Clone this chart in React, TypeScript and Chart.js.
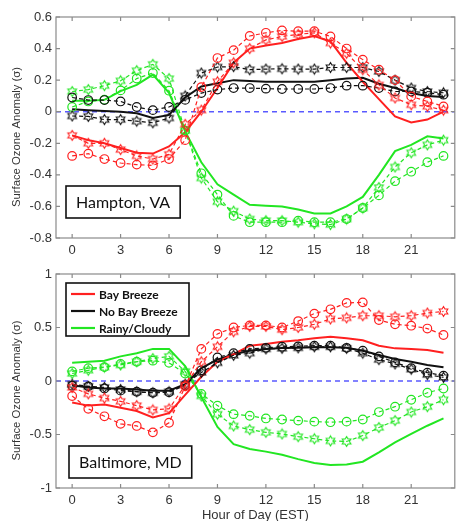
import { useEffect, useRef } from "react";
import { Chart, registerables } from "chart.js";
Chart.register(...registerables);

// ---------------- data ----------------
const HOURS = [0, 1, 2, 3, 4, 5, 6, 7, 8, 9, 10, 11, 12, 13, 14, 15, 16, 17, 18, 19, 20, 21, 22, 23];
const X_TICKS = [0, 3, 6, 9, 12, 15, 18, 21];
const X_MIN = -1;
const X_MAX = 23.7;

const CATEGORIES = ["Bay Breeze", "No Bay Breeze", "Rainy/Cloudy"];
const X_TITLE = "Hour of Day (EST)";
const Y_TITLE = "Surface Ozone Anomaly (\u03c3)";
const TOP_LOCATION = "Hampton, VA";
const BOTTOM_LOCATION = "Baltimore, MD";

// Hampton, VA
const H_BB_SOLID = [-0.15, -0.18, -0.2, -0.23, -0.26, -0.265, -0.22, -0.13, 0.0, 0.15, 0.31, 0.4, 0.42, 0.435, 0.46, 0.48, 0.445, 0.31, 0.19, 0.08, -0.03, -0.068, -0.05, 0.0];
const H_BB_CIRC = [-0.28, -0.266, -0.3, -0.325, -0.335, -0.34, -0.3, -0.18, 0.156, 0.34, 0.39, 0.48, 0.5, 0.515, 0.51, 0.51, 0.477, 0.4, 0.33, 0.266, 0.2, 0.097, 0.065, 0.034];
const H_BB_STAR = [-0.15, -0.2, -0.2, -0.24, -0.28, -0.3, -0.27, -0.08, 0.01, 0.19, 0.31, 0.4, 0.455, 0.477, 0.49, 0.5, 0.435, 0.37, 0.266, 0.17, 0.087, 0.044, 0.034, 0.01];
const H_NB_SOLID = [0.015, 0.01, 0.005, 0.0, -0.01, -0.04, -0.02, 0.09, 0.16, 0.18, 0.2, 0.195, 0.19, 0.19, 0.19, 0.19, 0.2, 0.21, 0.215, 0.177, 0.15, 0.118, 0.1, 0.093];
const H_NB_CIRC = [0.09, 0.074, 0.074, 0.065, 0.03, 0.01, 0.03, 0.075, 0.118, 0.14, 0.15, 0.15, 0.146, 0.144, 0.144, 0.144, 0.15, 0.165, 0.165, 0.15, 0.128, 0.128, 0.12, 0.108];
const H_NB_STAR = [-0.027, -0.03, -0.05, -0.05, -0.06, -0.07, -0.04, 0.1, 0.245, 0.283, 0.286, 0.266, 0.27, 0.272, 0.27, 0.27, 0.28, 0.28, 0.28, 0.255, 0.2, 0.15, 0.128, 0.12];
const H_RC_SOLID = [0.07, 0.07, 0.075, 0.13, 0.17, 0.235, 0.12, -0.125, -0.32, -0.46, -0.525, -0.59, -0.595, -0.6, -0.62, -0.645, -0.645, -0.6, -0.54, -0.4, -0.25, -0.21, -0.156, -0.17];
const H_RC_CIRC = [0.03, 0.065, 0.076, 0.135, 0.21, 0.245, 0.133, -0.12, -0.39, -0.525, -0.66, -0.7, -0.7, -0.7, -0.69, -0.7, -0.7, -0.68, -0.61, -0.53, -0.44, -0.38, -0.32, -0.28];
const H_RC_STAR = [0.128, 0.14, 0.165, 0.196, 0.26, 0.3, 0.21, -0.12, -0.42, -0.57, -0.63, -0.68, -0.69, -0.69, -0.7, -0.71, -0.715, -0.68, -0.61, -0.48, -0.35, -0.26, -0.21, -0.18];

// Baltimore, MD
const B_BB_SOLID = [-0.2, -0.23, -0.22, -0.25, -0.28, -0.34, -0.3, -0.13, 0.04, 0.18, 0.25, 0.33, 0.346, 0.367, 0.38, 0.4, 0.413, 0.4, 0.38, 0.33, 0.305, 0.3, 0.29, 0.265];
const B_BB_CIRC = [-0.14, -0.26, -0.33, -0.4, -0.42, -0.48, -0.39, -0.05, 0.3, 0.44, 0.5, 0.52, 0.52, 0.5, 0.56, 0.63, 0.67, 0.73, 0.735, 0.57, 0.53, 0.517, 0.49, 0.43];
const B_BB_STAR = [-0.06, -0.12, -0.16, -0.19, -0.23, -0.27, -0.26, -0.04, 0.18, 0.32, 0.46, 0.51, 0.51, 0.48, 0.5, 0.53, 0.58, 0.59, 0.61, 0.61, 0.6, 0.61, 0.635, 0.65];
const B_NB_SOLID = [-0.04, -0.06, -0.07, -0.07, -0.08, -0.09, -0.09, -0.03, 0.12, 0.2, 0.25, 0.283, 0.3, 0.308, 0.31, 0.315, 0.315, 0.31, 0.283, 0.243, 0.205, 0.18, 0.15, 0.128];
const B_NB_CIRC = [-0.044, -0.05, -0.07, -0.09, -0.1, -0.11, -0.105, -0.04, 0.1, 0.22, 0.26, 0.3, 0.31, 0.32, 0.324, 0.33, 0.33, 0.31, 0.283, 0.23, 0.174, 0.12, 0.078, 0.05];
const B_NB_STAR = [-0.03, -0.05, -0.06, -0.08, -0.1, -0.11, -0.1, -0.03, 0.08, 0.17, 0.24, 0.26, 0.3, 0.305, 0.31, 0.32, 0.32, 0.305, 0.26, 0.2, 0.16, 0.11, 0.06, 0.034];
const B_RC_SOLID = [0.17, 0.18, 0.19, 0.23, 0.26, 0.3, 0.3, 0.14, -0.15, -0.43, -0.59, -0.636, -0.66, -0.69, -0.73, -0.766, -0.785, -0.78, -0.754, -0.667, -0.573, -0.495, -0.418, -0.35];
const B_RC_CIRC = [0.09, 0.12, 0.13, 0.16, 0.18, 0.19, 0.17, 0.07, -0.12, -0.23, -0.31, -0.325, -0.35, -0.36, -0.37, -0.38, -0.385, -0.38, -0.36, -0.29, -0.24, -0.175, -0.11, -0.07];
const B_RC_STAR = [0.07, 0.1, 0.13, 0.15, 0.18, 0.21, 0.23, 0.09, -0.14, -0.31, -0.42, -0.455, -0.48, -0.495, -0.52, -0.54, -0.56, -0.565, -0.51, -0.435, -0.37, -0.29, -0.24, -0.175];

// ---------------- styles ----------------
const COLORS = ["#ff2020", "#111111", "#22e622"];
const ZERO_COLOR = "#5a5aff";
const FRAME_COLOR = "#8a8a8a";
const TEXT_COLOR = "#333333";
const TICK_FONT = "'Liberation Sans', Arial, sans-serif";

function hexagram(color: string): HTMLCanvasElement {
  const s = 13;
  const c = document.createElement("canvas");
  c.width = s;
  c.height = s;
  const ctx = c.getContext("2d")!;
  const R = 5;
  const r = R / Math.sqrt(3);
  const cx = s / 2;
  const cy = s / 2;
  ctx.beginPath();
  for (let i = 0; i < 12; i++) {
    const a = -Math.PI / 2 + (i * Math.PI) / 6;
    const rad = i % 2 === 0 ? R : r;
    const px = cx + rad * Math.cos(a);
    const py = cy + rad * Math.sin(a);
    if (i === 0) ctx.moveTo(px, py);
    else ctx.lineTo(px, py);
  }
  ctx.closePath();
  ctx.strokeStyle = color;
  ctx.lineWidth = 1.1;
  ctx.stroke();
  return c;
}

function toPoints(vals: number[]) {
  return HOURS.map((h, i) => ({ x: h, y: vals[i] }));
}

function buildDatasets(solid: number[][], circ: number[][], star: number[][]) {
  const ds: any[] = [];
  for (let k = 0; k < CATEGORIES.length; k++) {
    ds.push({
      label: CATEGORIES[k] + " (circles)",
      data: toPoints(circ[k]),
      borderColor: COLORS[k],
      borderWidth: 1.2,
      borderDash: [4, 3],
      pointStyle: "circle",
      pointRadius: 4.3,
      pointBorderWidth: 1.2,
      pointBorderColor: COLORS[k],
      pointBackgroundColor: "rgba(0,0,0,0)",
      tension: 0,
    });
    ds.push({
      label: CATEGORIES[k] + " (stars)",
      data: toPoints(star[k]),
      borderColor: COLORS[k],
      borderWidth: 1.2,
      borderDash: [4, 3],
      pointStyle: hexagram(COLORS[k]),
      pointRadius: 5,
      tension: 0,
    });
  }
  for (let k = 0; k < CATEGORIES.length; k++) {
    ds.push({
      label: CATEGORIES[k],
      data: toPoints(solid[k]),
      borderColor: COLORS[k],
      borderWidth: 2,
      pointRadius: 0,
      tension: 0,
    });
  }
  return ds;
}

function fmtTick(v: number) {
  return String(Number(v.toFixed(3)));
}

type PanelProps = {
  top: number;
  height: number;
  padTop: number;
  xAxisH: number;
  yMin: number;
  yMax: number;
  yStep: number;
  solid: number[][];
  circ: number[][];
  star: number[][];
  location: string;
  locGapBottom: number;
  locPad: number;
  showLegend: boolean;
  showXTitle: boolean;
};

function Panel(p: PanelProps) {
  const ref = useRef<HTMLCanvasElement | null>(null);
  useEffect(() => {
    const canvas = ref.current!;
    const deco = {
      id: "deco",
      beforeDatasetsDraw(chart: any) {
        const { ctx, chartArea } = chart;
        const y0 = chart.scales.y.getPixelForValue(0);
        ctx.save();
        ctx.strokeStyle = ZERO_COLOR;
        ctx.lineWidth = 1.4;
        ctx.setLineDash([5, 4]);
        ctx.beginPath();
        ctx.moveTo(chartArea.left, y0);
        ctx.lineTo(chartArea.right, y0);
        ctx.stroke();
        ctx.restore();
      },
      afterDraw(chart: any) {
        const { ctx, chartArea } = chart;
        const { left, right, top, bottom } = chartArea;
        const xs = chart.scales.x;
        const ys = chart.scales.y;
        ctx.save();
        // frame
        ctx.strokeStyle = FRAME_COLOR;
        ctx.lineWidth = 1.2;
        ctx.strokeRect(left, top, right - left, bottom - top);
        // inner ticks
        ctx.beginPath();
        X_TICKS.forEach((v) => {
          const px = xs.getPixelForValue(v);
          ctx.moveTo(px, bottom);
          ctx.lineTo(px, bottom - 4);
          ctx.moveTo(px, top);
          ctx.lineTo(px, top + 4);
        });
        ys.ticks.forEach((t: any) => {
          const py = ys.getPixelForValue(t.value);
          ctx.moveTo(left, py);
          ctx.lineTo(left + 4, py);
          ctx.moveTo(right, py);
          ctx.lineTo(right - 4, py);
        });
        ctx.stroke();

        // y title
        ctx.fillStyle = TEXT_COLOR;
        ctx.font = `11.3px ${TICK_FONT}`;
        ctx.textAlign = "center";
        ctx.textBaseline = "middle";
        ctx.save();
        ctx.translate(16.5, (top + bottom) / 2 + 9.5);
        ctx.rotate(-Math.PI / 2);
        ctx.fillText(Y_TITLE, 0, 0);
        ctx.restore();

        // x title
        if (p.showXTitle) {
          ctx.font = `13px ${TICK_FONT}`;
          ctx.fillStyle = TEXT_COLOR;
          ctx.textAlign = "center";
          ctx.textBaseline = "middle";
          ctx.fillText(X_TITLE, (left + right) / 2, bottom + 27);
        }

        // location box
        ctx.font = `16px Lato, 'Open Sans', sans-serif`;
        const tw = ctx.measureText(p.location).width;
        const bw = tw + 2 * p.locPad;
        const bh = 32;
        const bx = left + 10 + (p.showLegend ? 3 : 0);
        const by = bottom - p.locGapBottom - bh;
        ctx.fillStyle = "#ffffff";
        ctx.fillRect(bx, by, bw, bh);
        ctx.strokeStyle = "#111111";
        ctx.lineWidth = 1.6;
        ctx.strokeRect(bx, by, bw, bh);
        ctx.fillStyle = "#111111";
        ctx.textAlign = "left";
        ctx.textBaseline = "middle";
        ctx.fillText(p.location, bx + p.locPad, by + bh / 2 + 1);

        // legend
        if (p.showLegend) {
          const lx = left + 10;
          const ly = top + 9;
          const lw = 123;
          const lh = 53;
          ctx.fillStyle = "#ffffff";
          ctx.fillRect(lx, ly, lw, lh);
          ctx.strokeStyle = "#111111";
          ctx.lineWidth = 1.6;
          ctx.strokeRect(lx, ly, lw, lh);
          ctx.font = `bold 12px Lato, 'Open Sans', sans-serif`;
          CATEGORIES.forEach((name, k) => {
            const ry = ly + 11 + k * 17;
            ctx.strokeStyle = COLORS[k];
            ctx.lineWidth = 2.2;
            ctx.beginPath();
            ctx.moveTo(lx + 5, ry);
            ctx.lineTo(lx + 29, ry);
            ctx.stroke();
            ctx.fillStyle = "#111111";
            ctx.textAlign = "left";
            ctx.textBaseline = "middle";
            ctx.fillText(name, lx + 33, ry + 1);
          });
        }
        ctx.restore();
      },
    };

    const chart = new Chart(canvas, {
      type: "line",
      data: { datasets: buildDatasets(p.solid, p.circ, p.star) },
      options: {
        animation: false,
        responsive: false,
        maintainAspectRatio: false,
        layout: { padding: { top: p.padTop, right: 2, left: 0, bottom: 0 } },
        plugins: { legend: { display: false }, tooltip: { enabled: false } },
        scales: {
          x: {
            type: "linear",
            min: X_MIN,
            max: X_MAX,
            afterBuildTicks: (s: any) => {
              s.ticks = X_TICKS.map((v) => ({ value: v }));
            },
            afterFit: (s: any) => {
              s.height = p.xAxisH;
            },
            grid: { display: false, drawTicks: false },
            border: { display: false },
            ticks: {
              padding: 5,
              autoSkip: false,
              maxRotation: 0,
              color: TEXT_COLOR,
              font: { family: TICK_FONT, size: 13 },
              callback: (v: any) => fmtTick(Number(v)),
            },
          },
          y: {
            type: "linear",
            min: p.yMin,
            max: p.yMax,
            afterFit: (s: any) => {
              s.width = 56;
            },
            grid: { display: false, drawTicks: false },
            border: { display: false },
            ticks: {
              stepSize: p.yStep,
              padding: 4,
              color: TEXT_COLOR,
              font: { family: TICK_FONT, size: 13 },
              callback: (v: any) => fmtTick(Number(v)),
            },
          },
        },
      },
      plugins: [deco],
    } as any);
    return () => chart.destroy();
  }, []);
  return (
    <canvas
      ref={ref}
      width={461}
      height={p.height}
      style={{ position: "absolute", left: 0, top: p.top, width: 461, height: p.height }}
    />
  );
}

export default function App() {
  return (
    <div style={{ position: "fixed", left: 0, top: 0, width: 461, height: 521, background: "#ffffff" }}>
      <Panel
        top={0}
        height={260}
        padTop={17}
        xAxisH={22}
        yMin={-0.8}
        yMax={0.6}
        yStep={0.2}
        solid={[H_BB_SOLID, H_NB_SOLID, H_RC_SOLID]}
        circ={[H_BB_CIRC, H_NB_CIRC, H_RC_CIRC]}
        star={[H_BB_STAR, H_NB_STAR, H_RC_STAR]}
        location={TOP_LOCATION}
        locGapBottom={20}
        locPad={10}
        showLegend={false}
        showXTitle={false}
      />
      <Panel
        top={260}
        height={261}
        padTop={14}
        xAxisH={33}
        yMin={-1}
        yMax={1}
        yStep={0.5}
        solid={[B_BB_SOLID, B_NB_SOLID, B_RC_SOLID]}
        circ={[B_BB_CIRC, B_NB_CIRC, B_RC_CIRC]}
        star={[B_BB_STAR, B_NB_STAR, B_RC_STAR]}
        location={BOTTOM_LOCATION}
        locGapBottom={10}
        locPad={10}
        showLegend={true}
        showXTitle={true}
      />
    </div>
  );
}
